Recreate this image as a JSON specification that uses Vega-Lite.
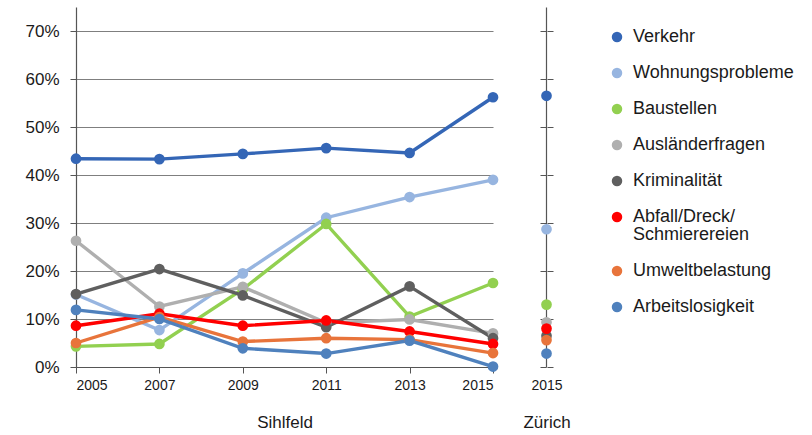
{
  "$schema": "https://vega.github.io/schema/vega-lite/v6.json",
  "padding": {"left": 24, "top": 7, "right": 5, "bottom": 5},
  "background": "white",
  "bounds": "flush",
  "spacing": 53,
  "config": {
    "font": "Liberation Sans",
    "view": {"stroke": null},
    "axis": {
      "domainColor": "#555555",
      "tickColor": "#555555",
      "labelColor": "#1a1a1a",
      "titleColor": "#1a1a1a",
      "titleFontWeight": "normal",
      "gridColor": "#7f7f7f",
      "gridWidth": 1,
      "domainWidth": 1.2
    },
    "legend": {
      "labelFontSize": 18,
      "labelColor": "#1a1a1a",
      "labelLimit": 400,
      "symbolType": "circle",
      "symbolSize": 110,
      "symbolStrokeWidth": 0,
      "rowPadding": 18,
      "labelOffset": 7
    }
  },
  "datasets": {
    "sihlfeld": [
      {"Jahr": 2005, "Thema": "Verkehr", "Anteil": 0.434},
      {"Jahr": 2007, "Thema": "Verkehr", "Anteil": 0.433},
      {"Jahr": 2009, "Thema": "Verkehr", "Anteil": 0.444},
      {"Jahr": 2011, "Thema": "Verkehr", "Anteil": 0.456},
      {"Jahr": 2013, "Thema": "Verkehr", "Anteil": 0.446},
      {"Jahr": 2015, "Thema": "Verkehr", "Anteil": 0.562},
      {"Jahr": 2005, "Thema": "Wohnungsprobleme", "Anteil": 0.151},
      {"Jahr": 2007, "Thema": "Wohnungsprobleme", "Anteil": 0.077},
      {"Jahr": 2009, "Thema": "Wohnungsprobleme", "Anteil": 0.195},
      {"Jahr": 2011, "Thema": "Wohnungsprobleme", "Anteil": 0.311},
      {"Jahr": 2013, "Thema": "Wohnungsprobleme", "Anteil": 0.354},
      {"Jahr": 2015, "Thema": "Wohnungsprobleme", "Anteil": 0.390},
      {"Jahr": 2005, "Thema": "Baustellen", "Anteil": 0.043},
      {"Jahr": 2007, "Thema": "Baustellen", "Anteil": 0.048},
      {"Jahr": 2009, "Thema": "Baustellen", "Anteil": 0.162},
      {"Jahr": 2011, "Thema": "Baustellen", "Anteil": 0.298},
      {"Jahr": 2013, "Thema": "Baustellen", "Anteil": 0.105},
      {"Jahr": 2015, "Thema": "Baustellen", "Anteil": 0.175},
      {"Jahr": 2005, "Thema": "Ausländerfragen", "Anteil": 0.263},
      {"Jahr": 2007, "Thema": "Ausländerfragen", "Anteil": 0.126},
      {"Jahr": 2009, "Thema": "Ausländerfragen", "Anteil": 0.167},
      {"Jahr": 2011, "Thema": "Ausländerfragen", "Anteil": 0.092},
      {"Jahr": 2013, "Thema": "Ausländerfragen", "Anteil": 0.099},
      {"Jahr": 2015, "Thema": "Ausländerfragen", "Anteil": 0.070},
      {"Jahr": 2005, "Thema": "Kriminalität", "Anteil": 0.152},
      {"Jahr": 2007, "Thema": "Kriminalität", "Anteil": 0.204},
      {"Jahr": 2009, "Thema": "Kriminalität", "Anteil": 0.149},
      {"Jahr": 2011, "Thema": "Kriminalität", "Anteil": 0.083},
      {"Jahr": 2013, "Thema": "Kriminalität", "Anteil": 0.168},
      {"Jahr": 2015, "Thema": "Kriminalität", "Anteil": 0.060},
      {"Jahr": 2005, "Thema": "Abfall/Dreck/Schmierereien", "Anteil": 0.086},
      {"Jahr": 2007, "Thema": "Abfall/Dreck/Schmierereien", "Anteil": 0.111},
      {"Jahr": 2009, "Thema": "Abfall/Dreck/Schmierereien", "Anteil": 0.086},
      {"Jahr": 2011, "Thema": "Abfall/Dreck/Schmierereien", "Anteil": 0.097},
      {"Jahr": 2013, "Thema": "Abfall/Dreck/Schmierereien", "Anteil": 0.074},
      {"Jahr": 2015, "Thema": "Abfall/Dreck/Schmierereien", "Anteil": 0.048},
      {"Jahr": 2005, "Thema": "Umweltbelastung", "Anteil": 0.050},
      {"Jahr": 2007, "Thema": "Umweltbelastung", "Anteil": 0.104},
      {"Jahr": 2009, "Thema": "Umweltbelastung", "Anteil": 0.053},
      {"Jahr": 2011, "Thema": "Umweltbelastung", "Anteil": 0.060},
      {"Jahr": 2013, "Thema": "Umweltbelastung", "Anteil": 0.057},
      {"Jahr": 2015, "Thema": "Umweltbelastung", "Anteil": 0.029},
      {"Jahr": 2005, "Thema": "Arbeitslosigkeit", "Anteil": 0.119},
      {"Jahr": 2007, "Thema": "Arbeitslosigkeit", "Anteil": 0.100},
      {"Jahr": 2009, "Thema": "Arbeitslosigkeit", "Anteil": 0.039},
      {"Jahr": 2011, "Thema": "Arbeitslosigkeit", "Anteil": 0.028},
      {"Jahr": 2013, "Thema": "Arbeitslosigkeit", "Anteil": 0.055},
      {"Jahr": 2015, "Thema": "Arbeitslosigkeit", "Anteil": 0.001}
    ],
    "zuerich": [
      {"Jahr": "2015", "Thema": "Verkehr", "Anteil": 0.565},
      {"Jahr": "2015", "Thema": "Wohnungsprobleme", "Anteil": 0.287},
      {"Jahr": "2015", "Thema": "Baustellen", "Anteil": 0.130},
      {"Jahr": "2015", "Thema": "Ausländerfragen", "Anteil": 0.093},
      {"Jahr": "2015", "Thema": "Kriminalität", "Anteil": 0.065},
      {"Jahr": "2015", "Thema": "Abfall/Dreck/Schmierereien", "Anteil": 0.080},
      {"Jahr": "2015", "Thema": "Umweltbelastung", "Anteil": 0.056},
      {"Jahr": "2015", "Thema": "Arbeitslosigkeit", "Anteil": 0.028}
    ]
  },
  "hconcat": [
    {
      "width": 417,
      "height": 360,
      "data": {"name": "sihlfeld"},
      "encoding": {
        "x": {
          "field": "Jahr", "type": "quantitative", "title": "Sihlfeld",
          "scale": {"domain": [2005, 2015], "nice": false, "zero": false},
          "axis": {"values": [2005, 2007, 2009, 2011, 2013, 2015], "format": "d", "grid": false, "labelFontSize": 14, "labelPadding": 5, "tickSize": 6, "titleFontSize": 17, "titlePadding": 22}
        },
        "y": {
          "field": "Anteil", "type": "quantitative", "title": null,
          "scale": {"domain": [0, 0.75], "nice": false},
          "axis": {"values": [0, 0.1, 0.2, 0.3, 0.4, 0.5, 0.6, 0.7], "format": ".0%", "labelFontSize": 17, "labelPadding": 11, "tickSize": 6}
        },
        "color": {
          "field": "Thema", "type": "nominal", "title": null,
          "scale": {
            "domain": ["Verkehr", "Wohnungsprobleme", "Baustellen", "Ausländerfragen", "Kriminalität", "Abfall/Dreck/Schmierereien", "Umweltbelastung", "Arbeitslosigkeit"],
            "range": ["#3466b6", "#97b5e0", "#92d050", "#afafaf", "#5f5f5f", "#ff0000", "#e8743b", "#4f81bd"]
          },
          "legend": {
            "orient": "none", "legendX": 532, "legendY": 21,
            "labelExpr": "datum.label == 'Abfall/Dreck/Schmierereien' ? ['Abfall/Dreck/', 'Schmierereien'] : datum.label",
            "encode": {"labels": {"update": {"lineHeight": {"value": 17.5}}}}
          }
        }
      },
      "layer": [
        {"mark": {"type": "line", "strokeWidth": 3.4}},
        {"mark": {"type": "circle", "size": 115, "opacity": 1}}
      ]
    },
    {
      "width": 1,
      "height": 360,
      "data": {"name": "zuerich"},
      "encoding": {
        "x": {
          "field": "Jahr", "type": "ordinal", "title": "Zürich",
          "scale": {"type": "point"},
          "axis": {"labelAngle": 0, "domain": false, "ticks": false, "labelFontSize": 14, "labelPadding": 11, "titleFontSize": 17, "titlePadding": 22}
        },
        "color": {"field": "Thema", "type": "nominal"}
      },
      "resolve": {"scale": {"y": "independent"}, "axis": {"y": "independent"}},
      "layer": [
        {
          "mark": {"type": "circle", "size": 115, "opacity": 1},
          "encoding": {
            "y": {
              "field": "Anteil", "type": "quantitative", "title": null,
              "scale": {"domain": [0, 0.75], "nice": false},
              "axis": {"orient": "left", "values": [0, 0.1, 0.2, 0.3, 0.4, 0.5, 0.6, 0.7], "labels": false, "grid": false, "tickSize": 6}
            }
          }
        },
        {
          "mark": {"type": "circle", "size": 115, "opacity": 0},
          "encoding": {
            "y": {
              "field": "Anteil", "type": "quantitative", "title": null,
              "scale": {"domain": [0, 0.75], "nice": false},
              "axis": {"orient": "right", "values": [0, 0.1, 0.2, 0.3, 0.4, 0.5, 0.6, 0.7], "labels": false, "grid": false, "domain": false, "tickSize": 6}
            }
          }
        }
      ]
    }
  ]
}
